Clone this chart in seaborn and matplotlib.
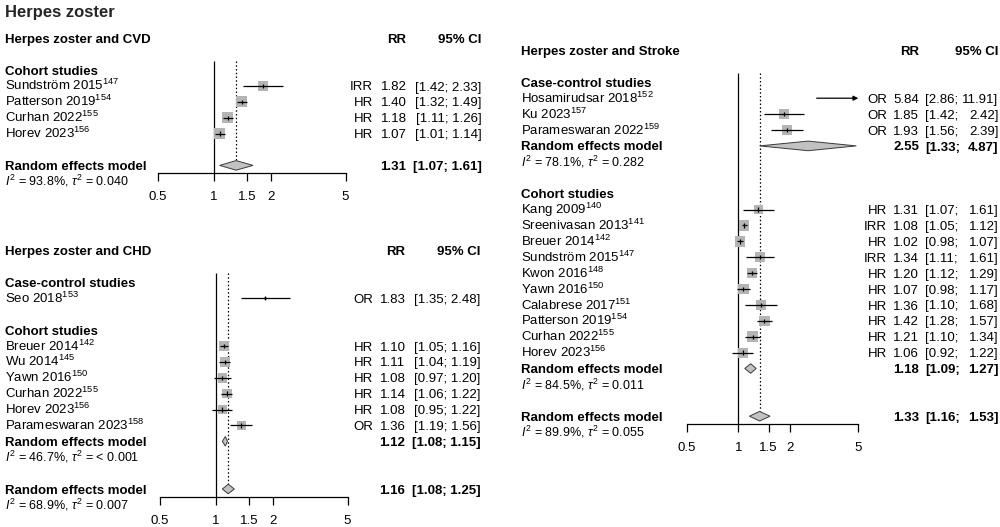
import matplotlib
matplotlib.use("Agg")
import matplotlib.pyplot as plt
from matplotlib.ticker import NullLocator
import seaborn as sns

# ---------------- data ----------------
title = "Herpes zoster"

# CVD panel
cvd_title = "Herpes zoster and CVD"
cvd_names = ["Sundström 2015", "Patterson 2019", "Curhan 2022", "Horev 2023"]
cvd_refs = ["147", "154", "155", "156"]
cvd_types = ["IRR", "HR", "HR", "HR"]
cvd_est = [1.82, 1.40, 1.18, 1.07]
cvd_lo = [1.42, 1.32, 1.11, 1.01]
cvd_hi = [2.33, 1.49, 1.26, 1.14]
cvd_w = [22, 26, 26, 26]
cvd_re = [1.31, 1.07, 1.61]
cvd_i2 = "93.8%"
cvd_tau2 = "0.040"

# CHD panel
chd_title = "Herpes zoster and CHD"
chd_cc_names = ["Seo 2018"]
chd_cc_refs = ["153"]
chd_cc_types = ["OR"]
chd_cc_est = [1.83]
chd_cc_lo = [1.35]
chd_cc_hi = [2.48]
chd_cc_w = [2]
chd_co_names = ["Breuer 2014", "Wu 2014", "Yawn 2016", "Curhan 2022", "Horev 2023", "Parameswaran 2023"]
chd_co_refs = ["142", "145", "150", "155", "156", "158"]
chd_co_types = ["HR", "HR", "HR", "HR", "HR", "OR"]
chd_co_est = [1.10, 1.11, 1.08, 1.14, 1.08, 1.36]
chd_co_lo = [1.05, 1.04, 0.97, 1.06, 0.95, 1.19]
chd_co_hi = [1.16, 1.19, 1.20, 1.22, 1.22, 1.56]
chd_co_w = [18, 18, 17, 16, 17, 14]
chd_co_re = [1.12, 1.08, 1.15]
chd_co_i2 = "46.7%"
chd_co_tau2 = "< 0.001"
chd_re = [1.16, 1.08, 1.25]
chd_i2 = "68.9%"
chd_tau2 = "0.007"

# Stroke panel
str_title = "Herpes zoster and Stroke"
str_cc_names = ["Hosamirudsar 2018", "Ku 2023", "Parameswaran 2022"]
str_cc_refs = ["152", "157", "159"]
str_cc_types = ["OR", "OR", "OR"]
str_cc_est = [5.84, 1.85, 1.93]
str_cc_lo = [2.86, 1.42, 1.56]
str_cc_hi = [11.91, 2.42, 2.39]
str_cc_w = [5, 8, 8.5]
str_cc_re = [2.55, 1.33, 4.87]
str_cc_i2 = "78.1%"
str_cc_tau2 = "0.282"
str_co_names = ["Kang 2009", "Sreenivasan 2013", "Breuer 2014", "Sundström 2015", "Kwon 2016",
                "Yawn 2016", "Calabrese 2017", "Patterson 2019", "Curhan 2022", "Horev 2023"]
str_co_refs = ["140", "141", "142", "147", "148", "150", "151", "154", "155", "156"]
str_co_types = ["HR", "IRR", "HR", "IRR", "HR", "HR", "HR", "HR", "HR", "HR"]
str_co_est = [1.31, 1.08, 1.02, 1.34, 1.20, 1.07, 1.36, 1.42, 1.21, 1.06]
str_co_lo = [1.07, 1.05, 0.98, 1.11, 1.12, 0.98, 1.10, 1.28, 1.10, 0.92]
str_co_hi = [1.61, 1.12, 1.07, 1.61, 1.29, 1.17, 1.68, 1.57, 1.34, 1.22]
str_co_w = [8, 9, 9, 7.5, 9, 9, 7.5, 9, 9, 8]
str_co_re = [1.18, 1.09, 1.27]
str_co_i2 = "84.5%"
str_co_tau2 = "0.011"
str_re = [1.33, 1.16, 1.53]
str_i2 = "89.9%"
str_tau2 = "0.055"

tick_vals = [0.5, 1, 1.5, 2, 5]
tick_labels = ["0.5", "1", "1.5", "2", "5"]

# ---------------- style ----------------
sns.set_theme(style="white")
plt.rcParams["font.family"] = ["Liberation Sans", "DejaVu Sans"]
plt.rcParams["mathtext.fontset"] = "custom"
plt.rcParams["mathtext.rm"] = "Liberation Sans"
plt.rcParams["mathtext.it"] = "Liberation Sans:italic"
plt.rcParams["mathtext.bf"] = "Liberation Sans:bold"

W, H = 1000, 527
FS = 9.5
FS_HET = 9.0
ROW = 15.9
BASE = 4.6
SQ_COLOR = "#b4b4b4"
DIA_FILL = "#c2c2c2"
DIA_EDGE = "#3a3a3a"
LW = 0.9
XMIN, XMAX = 0.5, 5.0

fig = plt.figure(figsize=(W / 100, H / 100), dpi=100)
tax = fig.add_axes([0, 0, 1, 1])
tax.set_xlim(0, W)
tax.set_ylim(H, 0)
tax.axis("off")

tax.text(5, 16.5, title, fontsize=12, fontweight="bold", va="baseline", ha="left")


def txt(x, y, s, ha="left", bold=False, fs=FS):
    tax.text(x, y + BASE, s, ha=ha, va="baseline", fontsize=fs,
             fontweight="bold" if bold else "normal", color="black")


def study_block(names, refs, types, est, lo, hi, w):
    return [dict(name=n, ref=r, typ=t, est=e, lo=l, hi=h, w=ww)
            for n, r, t, e, l, h, ww in zip(names, refs, types, est, lo, hi, w)]


def draw_panel(g, header, rows, overall_est, overall_idx, axis_idx, max_side):
    y0 = g["y0"]
    yof = lambda i: y0 + i * ROW
    # header
    hy = yof(-2)
    txt(g["name_x"], hy, header, bold=True)
    txt(g["val_r"], hy, "RR", ha="right", bold=True)
    txt(g["ci_r"], hy, "95% CI", ha="right", bold=True)

    fax = fig.add_axes([g["x05"] / W, 0, (g["x5"] - g["x05"]) / W, 1])
    fax.patch.set_visible(False)

    def ci_text(lo, hi, y, bold):
        if g["ci_l"] is None:
            txt(g["ci_r"], y, f"[{lo:.2f}; {hi:.2f}]", ha="right", bold=bold)
        else:
            txt(g["ci_l"], y, f"[{lo:.2f};", ha="left", bold=bold)
            txt(g["ci_r"], y, f"{hi:.2f}]", ha="right", bold=bold)

    sq_x, sq_y, sq_s = [], [], []
    all_w = [s["w"] for kind, i, p in rows if kind == "studies" for s in p]
    wmax = max(all_w)
    diamonds = []
    for kind, idx, payload in rows:
        if kind == "group":
            txt(g["name_x"], yof(idx), payload, bold=True)
        elif kind == "studies":
            for k, s in enumerate(payload):
                y = yof(idx + k)
                txt(g["name_x"], y, f"{s['name']}$^{{{s['ref']}}}$")
                txt(g["type_r"], y, s["typ"], ha="right")
                txt(g["val_r"], y, f"{s['est']:.2f}", ha="right")
                ci_text(s["lo"], s["hi"], y, False)
                if XMIN <= s["est"] <= XMAX:
                    side = max_side * (s["w"] / wmax) ** 0.5
                    sq_x.append(s["est"])
                    sq_y.append(y)
                    sq_s.append((side * 0.72) ** 2)
                    fax.vlines(s["est"], y - 2.2, y + 2.2, color="black", lw=LW, zorder=4)
                if s["hi"] > XMAX:
                    fax.annotate("", xy=(XMAX, y), xytext=(s["lo"], y),
                                 arrowprops=dict(arrowstyle="-|>", lw=LW, color="black",
                                                 mutation_scale=7, shrinkA=0, shrinkB=0),
                                 annotation_clip=False)
                else:
                    fax.hlines(y, max(s["lo"], XMIN), s["hi"], color="black", lw=LW, zorder=3)
        elif kind == "re":
            y = yof(idx)
            e, l, h = payload
            txt(g["name_x"], y, "Random effects model", bold=True)
            txt(g["val_r"], y, f"{e:.2f}", ha="right", bold=True)
            ci_text(l, h, y, True)
            diamonds.append((e, l, h, y))
        elif kind == "het":
            i2, tau2 = payload
            txt(g["name_x"], yof(idx), f"$I^2$ = {i2}, $\\tau^2$ = {tau2}", fs=FS_HET)

    sns.scatterplot(x=sq_x, y=sq_y, marker="s", s=sq_s, color=SQ_COLOR,
                    edgecolor="none", linewidth=0, ax=fax, legend=False, zorder=2)
    for e, l, h, y in diamonds:
        fax.fill([l, e, h, e], [y, y - 4.8, y, y + 4.8], facecolor=DIA_FILL,
                 edgecolor=DIA_EDGE, lw=0.7, zorder=3)

    top = yof(0) - 9.5
    axis_y = yof(axis_idx)
    fax.vlines(1, top, axis_y, color="black", lw=LW, zorder=1)
    fax.vlines(overall_est, top, yof(overall_idx) - 4.8, color="black", lw=LW,
               linestyles=(0, (1.2, 1.8)), zorder=1)

    fax.set_xscale("log")
    fax.set_xlim(XMIN, XMAX)
    fax.set_ylim(H, 0)
    fax.set_xlabel("")
    fax.set_ylabel("")
    for sp in ["top", "left", "right"]:
        fax.spines[sp].set_visible(False)
    fax.spines["bottom"].set_position(("data", axis_y))
    fax.spines["bottom"].set_color("black")
    fax.spines["bottom"].set_linewidth(LW)
    fax.set_xticks(tick_vals)
    fax.set_xticklabels(tick_labels)
    fax.xaxis.set_minor_locator(NullLocator())
    fax.tick_params(axis="x", which="major", bottom=True, direction="out", length=5.8,
                    width=LW, color="black", pad=7.0, labelsize=FS, labelcolor="black")
    fax.yaxis.set_visible(False)
    fax.grid(False)
    return fax


# CVD
g_cvd = dict(x05=157.5, x5=345.5, name_x=5, type_r=373, val_r=406.5, ci_l=None, ci_r=481.5, y0=70.0)
rows_cvd = [
    ("group", 0, "Cohort studies"),
    ("studies", 1, study_block(cvd_names, cvd_refs, cvd_types, cvd_est, cvd_lo, cvd_hi, cvd_w)),
    ("re", 6, cvd_re),
    ("het", 7, (cvd_i2, cvd_tau2)),
]
draw_panel(g_cvd, cvd_title, rows_cvd, cvd_re[0], 6, 6.5, 11)

# CHD
g_chd = dict(x05=159.5, x5=347.5, name_x=5, type_r=373, val_r=405.5, ci_l=None, ci_r=480.5, y0=282.3)
rows_chd = [
    ("group", 0, "Case-control studies"),
    ("studies", 1, study_block(chd_cc_names, chd_cc_refs, chd_cc_types, chd_cc_est, chd_cc_lo, chd_cc_hi, chd_cc_w)),
    ("group", 3, "Cohort studies"),
    ("studies", 4, study_block(chd_co_names, chd_co_refs, chd_co_types, chd_co_est, chd_co_lo, chd_co_hi, chd_co_w)),
    ("re", 10, chd_co_re),
    ("het", 11, (chd_co_i2, chd_co_tau2)),
    ("re", 13, chd_re),
    ("het", 14, (chd_i2, chd_tau2)),
]
draw_panel(g_chd, chd_title, rows_chd, chd_re[0], 13, 13.5, 10)

# Stroke
g_str = dict(x05=686.7, x5=858.3, name_x=521, type_r=887, val_r=919, ci_l=925, ci_r=998.5, y0=82.3)
rows_str = [
    ("group", 0, "Case-control studies"),
    ("studies", 1, study_block(str_cc_names, str_cc_refs, str_cc_types, str_cc_est, str_cc_lo, str_cc_hi, str_cc_w)),
    ("re", 4, str_cc_re),
    ("het", 5, (str_cc_i2, str_cc_tau2)),
    ("group", 7, "Cohort studies"),
    ("studies", 8, study_block(str_co_names, str_co_refs, str_co_types, str_co_est, str_co_lo, str_co_hi, str_co_w)),
    ("re", 18, str_co_re),
    ("het", 19, (str_co_i2, str_co_tau2)),
    ("re", 21, str_re),
    ("het", 22, (str_i2, str_tau2)),
]
draw_panel(g_str, str_title, rows_str, str_re[0], 21, 21.5, 10.5)

fig.savefig("out.png", dpi=100)
